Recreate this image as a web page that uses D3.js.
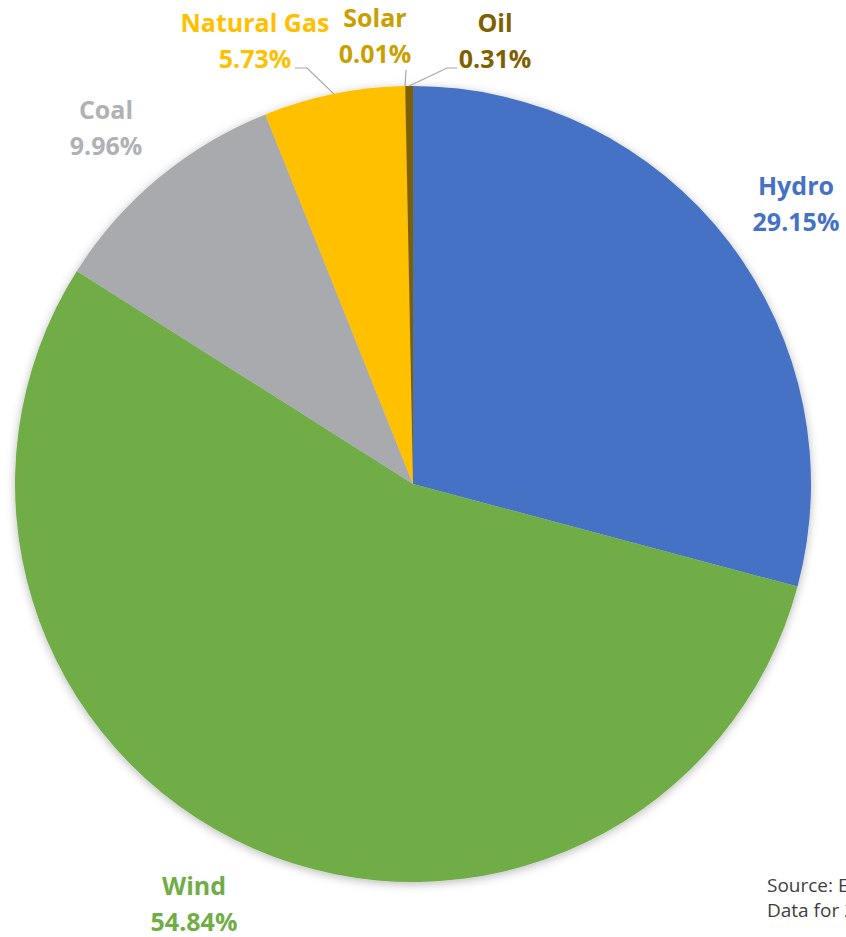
<!DOCTYPE html>
<html>
<head>
<meta charset="utf-8">
<script src="https://cdn.jsdelivr.net/npm/d3@7"></script>
<style>
  body { margin: 0; background: #fff; overflow: hidden; }
  text { font-family: "Open Sans", "Noto Sans", sans-serif; }
</style>
</head>
<body>
<svg id="chart"></svg>
<script>
// share of generation by source, clockwise from 12 o'clock
var sources = ["Hydro", "Wind", "Coal", "Natural Gas", "Solar", "Oil"];
var shares = [29.15, 54.84, 9.96, 5.73, 0.01, 0.31];
var sliceColors = ["#4472C4", "#70AD47", "#A9AAAD", "#FFC000", "#BF9000", "#7F6000"];
var labelColors = ["#4472C4", "#70AD47", "#B0B1B3", "#FFC000", "#C9A000", "#7F6000"];
var sourceNote = ["Source: EIA Electricity Data Browser", "Data for 2021"];

var width = 846, height = 937;
var cx = 413, cy = 484, radius = 398;

// label centre x and first-line baseline
var labelPos = {
  "Hydro": [796, 195],
  "Wind": [194, 895],
  "Coal": [106, 119],
  "Natural Gas": [255, 32],
  "Solar": [375, 27],
  "Oil": [495, 32]
};
var lineGap = 36;
// leader line elbow points for the small slices
var leaders = {
  "Natural Gas": [[295, 68], [307, 68]],
  "Solar": [[406, 70]],
  "Oil": [[457, 68], [447, 68]]
};

var data = sources.map(function(s, i) {
  return { source: s, value: shares[i], color: sliceColors[i], labelColor: labelColors[i] };
});

var chart = d3.select('#chart')
  .attr('width', width)
  .attr('height', height);

var defs = chart.append('defs');
var shadow = defs.append('filter').attr('id', 'shadow')
  .attr('x', '-10%').attr('y', '-10%').attr('width', '120%').attr('height', '120%');
shadow.append('feDropShadow')
  .attr('dx', 0).attr('dy', 2)
  .attr('stdDeviation', 5)
  .attr('flood-color', '#000')
  .attr('flood-opacity', 0.28);

var pie = d3.pie()
  .sort(null)
  .value(function(d) { return d.value; });

var arc = d3.arc()
  .innerRadius(0)
  .outerRadius(radius);

var arcs = pie(data);

var g = chart.append('g')
  .attr('transform', 'translate(' + cx + ',' + cy + ')');

g.append('g')
  .attr('filter', 'url(#shadow)')
  .selectAll('path')
  .data(arcs)
  .enter().append('path')
    .attr('d', arc)
    .attr('fill', function(d) { return d.data.color; });

// leader lines from slice edge to label
var line = d3.line();
arcs.forEach(function(d) {
  var pts = leaders[d.data.source];
  if (!pts) return;
  var mid = (d.startAngle + d.endAngle) / 2;
  var edge = [cx + radius * Math.sin(mid), cy - radius * Math.cos(mid)];
  chart.append('path')
    .attr('d', line(pts.concat([edge])))
    .attr('fill', 'none')
    .attr('stroke', '#A6A6A6')
    .attr('stroke-width', 1.2);
});

// labels
var labels = chart.append('g').selectAll('text')
  .data(arcs)
  .enter().append('text')
    .attr('text-anchor', 'middle')
    .attr('font-weight', 'bold')
    .attr('font-size', 25)
    .attr('fill', function(d) { return d.data.labelColor; })
    .attr('x', function(d) { return labelPos[d.data.source][0]; })
    .attr('y', function(d) { return labelPos[d.data.source][1]; });

labels.append('tspan')
  .attr('x', function(d) { return labelPos[d.data.source][0]; })
  .text(function(d) { return d.data.source; });
labels.append('tspan')
  .attr('x', function(d) { return labelPos[d.data.source][0]; })
  .attr('dy', lineGap)
  .text(function(d) { return d3.format('.2f')(d.data.value) + '%'; });

// source note, runs off the right edge
chart.append('g').selectAll('text')
  .data(sourceNote)
  .enter().append('text')
    .attr('x', 767)
    .attr('y', function(d, i) { return 892 + i * 25; })
    .attr('font-size', 19)
    .attr('fill', '#404040')
    .text(function(d) { return d; });
</script>
</body>
</html>
